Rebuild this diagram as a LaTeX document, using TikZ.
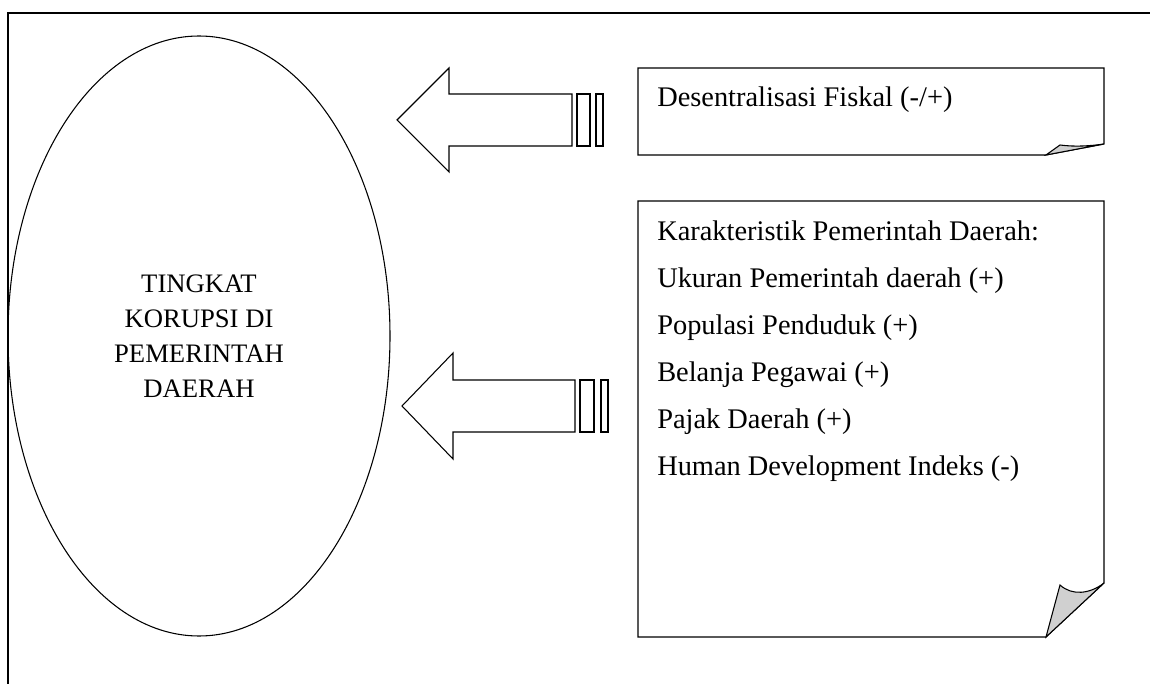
\documentclass[tikz,border=0pt]{standalone}
\usepackage{fontspec}
\setmainfont{Liberation Serif}
\usetikzlibrary{shapes.geometric,positioning}
\definecolor{foldgray}{HTML}{D0D0D0}

\begin{document}
\begin{tikzpicture}[x=0.75pt,y=-0.75pt,
  outline/.style={draw=black,line width=0.8pt},
  fold/.style={outline,fill=foldgray},
  blockarrow/.style={outline,fill=white,line join=miter},
  caption/.style={font=\fontsize{20}{26.3}\selectfont,inner sep=0pt},
  listing/.style={font=\fontsize{21.3}{35.2}\selectfont,inner sep=0pt,align=left,anchor=north west}
]
\useasboundingbox (0,0) rectangle (1150,684);
% frame
\draw[outline] (8,684) -- (8,13) -- (1150,13);
% ellipse
\node[outline,ellipse,minimum width=286.5pt,minimum height=450pt,inner sep=0pt,
      caption,align=center] (korupsi) at (199,336)
  {TINGKAT\\KORUPSI DI\\PEMERINTAH\\DAERAH};
% upper box
\draw[outline,fill=white] (638,68) -- (1104,68) -- (1104,144) -- (1046,155) -- (638,155) -- cycle;
\draw[fold] (1046,155) -- (1060,145) .. controls (1075,147) and (1090,146) .. (1104,144) -- cycle;
\node[caption,font=\fontsize{21.3}{26.3}\selectfont,anchor=west] (fiskal) at (657,100)
  {Desentralisasi Fiskal (-/+)};
% lower box
\draw[outline,fill=white] (638,201) -- (1104,201) -- (1104,583) -- (1046,637) -- (638,637) -- cycle;
\draw[fold] (1046,637) -- (1060,585) .. controls (1072,596) and (1090,594) .. (1104,583) -- cycle;
\node[listing] (karakter) at (657,221)
  {Karakteristik Pemerintah Daerah:\\
   Ukuran Pemerintah daerah (+)\\
   Populasi Penduduk (+)\\
   Belanja Pegawai (+)\\
   Pajak Daerah (+)\\
   Human Development Indeks (-)};
% arrows
\draw[blockarrow] (397,120) -- (449,68) -- (449,94) -- (572,94) -- (572,146)
  -- (449,146) -- (449,172) -- cycle;
\draw[outline] (577,94) rectangle (590,146);
\draw[outline] (596,94) rectangle (603,146);
\draw[blockarrow] (402,406) -- (453,353) -- (453,380) -- (575,380) -- (575,432)
  -- (453,432) -- (453,459) -- cycle;
\draw[outline] (580,380) rectangle (594,432);
\draw[outline] (601,380) rectangle (608,432);
\end{tikzpicture}
\end{document}
